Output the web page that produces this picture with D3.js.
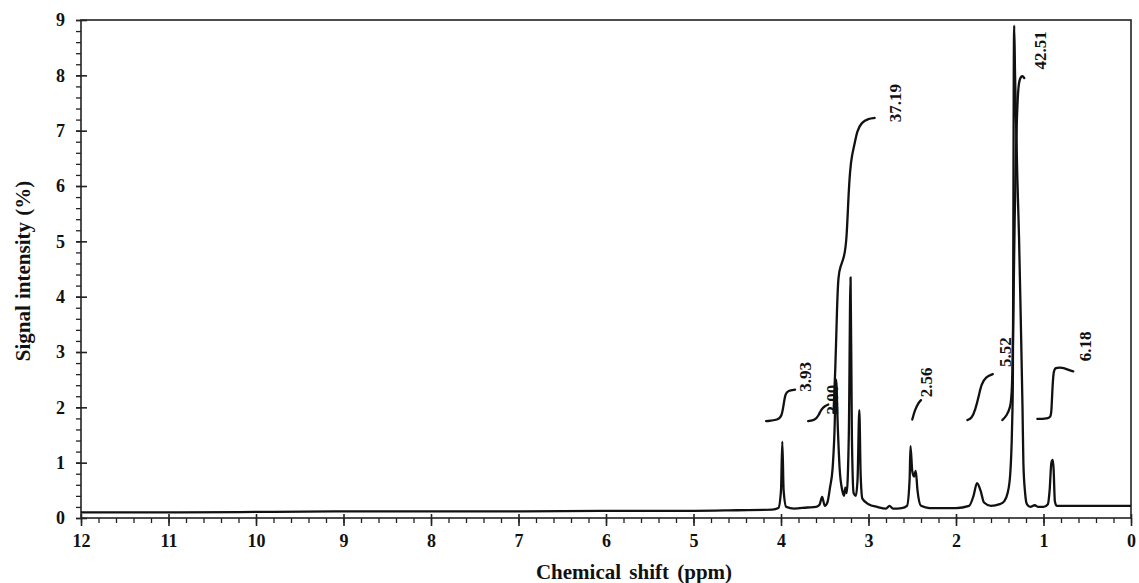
<!DOCTYPE html>
<html><head><meta charset="utf-8">
<script src="https://cdn.jsdelivr.net/npm/d3@7"></script>
<style>html,body{margin:0;padding:0;background:#fff;}svg{display:block;}</style>
</head><body>
<svg id="chart" width="1139" height="583"></svg>
<script>
// ---- data ----
const xTicks = [12, 11, 10, 9, 8, 7, 6, 5, 4, 3, 2, 1, 0];
const yTicks = [0, 1, 2, 3, 4, 5, 6, 7, 8, 9];
const xTitle = "Chemical shift (ppm)";
const yTitle = "Signal intensity (%)";

// spectrum: [ppm, intensity %]
const spectrum = [
  [12.0,0.10],[11.0,0.10],[10.0,0.11],[9.0,0.12],[8.0,0.12],[7.0,0.12],[6.0,0.13],[5.0,0.13],
  [4.5,0.14],[4.1,0.15],[4.03,0.18],[4.0,0.5],[3.985,1.38],[3.97,0.5],[3.94,0.2],[3.85,0.17],
  [3.7,0.19],[3.6,0.2],[3.56,0.24],[3.53,0.38],[3.50,0.22],[3.47,0.28],[3.44,0.55],[3.41,0.9],
  [3.39,1.5],[3.37,2.5],[3.35,1.6],[3.33,0.9],[3.30,0.5],[3.28,0.4],[3.265,0.55],[3.25,0.45],
  [3.225,1.5],[3.205,4.35],[3.19,1.5],[3.17,0.45],[3.145,0.4],[3.125,0.7],[3.105,1.95],[3.09,0.8],
  [3.07,0.35],[3.0,0.25],[2.9,0.2],[2.8,0.17],[2.76,0.22],[2.72,0.17],[2.62,0.18],
  [2.56,0.22],[2.53,0.7],[2.52,1.3],[2.50,0.85],[2.48,0.75],[2.46,0.85],[2.44,0.5],[2.40,0.22],
  [2.3,0.18],[2.0,0.18],[1.85,0.22],[1.80,0.4],[1.76,0.63],[1.72,0.5],[1.68,0.28],[1.6,0.22],
  [1.5,0.25],[1.45,0.3],[1.41,0.45],[1.38,0.8],[1.36,1.6],[1.35,2.5],[1.345,5.0],[1.34,8.0],
  [1.335,8.9],[1.325,8.0],[1.30,6.2],[1.28,5.1],[1.26,3.6],[1.24,2.0],[1.23,1.0],[1.21,0.45],
  [1.19,0.25],[1.15,0.2],[1.10,0.23],[1.06,0.2],[1.0,0.2],[0.95,0.25],[0.93,0.5],[0.91,1.0],
  [0.895,1.05],[0.885,0.9],[0.87,0.3],[0.85,0.22],[0.7,0.22],[0.3,0.22],[0.0,0.22]
];

// integral curves: [ppm, value]
const integral393 = [[4.17,1.75],[4.03,1.77],[3.99,1.85],[3.97,2.05],[3.95,2.25],[3.92,2.3],[3.84,2.32]];
const integral200 = [[3.69,1.75],[3.61,1.77],[3.57,1.85],[3.54,1.97],[3.49,2.03],[3.46,2.05]];
const integral3719 = [[3.40,1.9],[3.38,2.6],[3.36,3.8],[3.345,4.4],[3.32,4.55],[3.28,4.7],[3.25,5.0],
  [3.23,5.8],[3.21,6.3],[3.19,6.55],[3.16,6.75],[3.13,7.0],[3.08,7.15],[3.0,7.22],[2.93,7.23]];
const integral256 = [[2.50,1.78],[2.47,1.95],[2.43,2.08],[2.40,2.13]];
const integral552 = [[1.87,1.77],[1.82,1.80],[1.78,1.95],[1.74,2.2],[1.71,2.42],[1.66,2.55],[1.58,2.6]];
const integral4251 = [[1.47,1.77],[1.42,1.85],[1.38,2.0],[1.36,2.2],[1.345,3.5],[1.33,5.5],[1.31,7.0],
  [1.29,7.8],[1.27,7.95],[1.24,8.0],[1.22,7.95]];
const integral618 = [[1.07,1.79],[0.93,1.8],[0.91,1.85],[0.90,2.3],[0.885,2.65],[0.87,2.72],[0.78,2.72],[0.72,2.68],[0.66,2.65]];
const integrals = [integral393, integral200, integral3719, integral256, integral552, integral4251, integral618];

// integral labels: text, anchor [ppm, value]
const integralLabels = ["3.93", "2.00", "37.19", "2.56", "5.52", "42.51", "6.18"];
const labelPpm = [3.73, 3.42, 2.70, 2.34, 1.44, 1.04, 0.52];
const labelVal = [2.55, 2.14, 7.5, 2.45, 3.0, 8.45, 3.1];

// ---- layout ----
const svg = d3.select("#chart");
const W = 1139, H = 583;
const m = {left: 81, right: 8, top: 20, bottom: 65};
const x = d3.scaleLinear().domain([12, 0]).range([m.left, W - m.right]);
const y = d3.scaleLinear().domain([0, 9]).range([H - m.bottom, m.top]);
const font = "'Liberation Serif', 'Times New Roman', serif";

// frame
svg.append("rect").attr("x", x(12)).attr("y", y(9))
  .attr("width", x(0) - x(12)).attr("height", y(0) - y(9))
  .attr("fill", "none").attr("stroke", "#222").attr("stroke-width", 1.6);

// x axis
const xMinor = d3.range(0, 12.0001, 0.2);
const xAxisMinor = d3.axisBottom(x).tickValues(xMinor).tickSize(5).tickFormat("");
const gxm = svg.append("g").attr("transform", `translate(0,${y(0)})`).call(xAxisMinor);
gxm.select(".domain").remove();
gxm.selectAll("line").attr("stroke", "#222").attr("stroke-width", 1.3);
const xAxis = d3.axisBottom(x).tickValues(xTicks).tickSize(8).tickPadding(8).tickFormat(d3.format("d"));
const gx = svg.append("g").attr("transform", `translate(0,${y(0)})`).call(xAxis);
gx.select(".domain").remove();
gx.selectAll("line").attr("stroke", "#222").attr("stroke-width", 1.6).attr("y1", -4);
gx.selectAll("text").attr("font-family", font).attr("font-weight", "bold").attr("font-size", 18).attr("fill", "#111");

// y axis
const yMinor = d3.range(0, 9.0001, 0.2);
const yAxisMinor = d3.axisLeft(y).tickValues(yMinor).tickSize(5).tickFormat("");
const gym = svg.append("g").attr("transform", `translate(${x(12)},0)`).call(yAxisMinor);
gym.select(".domain").remove();
gym.selectAll("line").attr("stroke", "#222").attr("stroke-width", 1.3);
const yAxis = d3.axisLeft(y).tickValues(yTicks).tickSize(5).tickPadding(11).tickFormat(d3.format("d"));
const gy = svg.append("g").attr("transform", `translate(${x(12)},0)`).call(yAxis);
gy.select(".domain").remove();
gy.selectAll("line").attr("stroke", "#222").attr("stroke-width", 1.6).attr("x2", 6).attr("x1", -5);
gy.selectAll("text").attr("font-family", font).attr("font-weight", "bold").attr("font-size", 18).attr("fill", "#111");

// titles
svg.append("text").attr("x", 634).attr("y", 579)
  .attr("text-anchor", "middle").attr("font-family", font).attr("font-weight", "bold")
  .attr("font-size", 21).attr("word-spacing", 3).attr("fill", "#111").text(xTitle);
svg.append("text").attr("transform", `translate(30,271) rotate(-90)`)
  .attr("text-anchor", "middle").attr("font-family", font).attr("font-weight", "bold")
  .attr("font-size", 21).attr("word-spacing", 1).attr("fill", "#111").text(yTitle);

// spectrum
const line = d3.line().x(d => x(d[0])).y(d => y(d[1])).curve(d3.curveMonotoneX);
svg.append("path").datum(spectrum).attr("d", line)
  .attr("fill", "none").attr("stroke", "#111").attr("stroke-width", 2.3).attr("stroke-linejoin", "round");

// integral curves
const iline = d3.line().x(d => x(d[0])).y(d => y(d[1])).curve(d3.curveBasis);
svg.selectAll("path.integral").data(integrals).join("path").attr("class", "integral")
  .attr("d", iline).attr("fill", "none").attr("stroke", "#111").attr("stroke-width", 2.3)
  .attr("stroke-linecap", "round");

// integral labels
svg.selectAll("text.ilabel").data(integralLabels).join("text").attr("class", "ilabel")
  .attr("transform", (d, i) => `translate(${x(labelPpm[i])},${y(labelVal[i])}) rotate(-90)`)
  .attr("text-anchor", "middle").attr("dy", "0.35em")
  .attr("font-family", font).attr("font-weight", "bold").attr("font-size", 17).attr("fill", "#111")
  .text(d => d);
</script>
</body></html>
